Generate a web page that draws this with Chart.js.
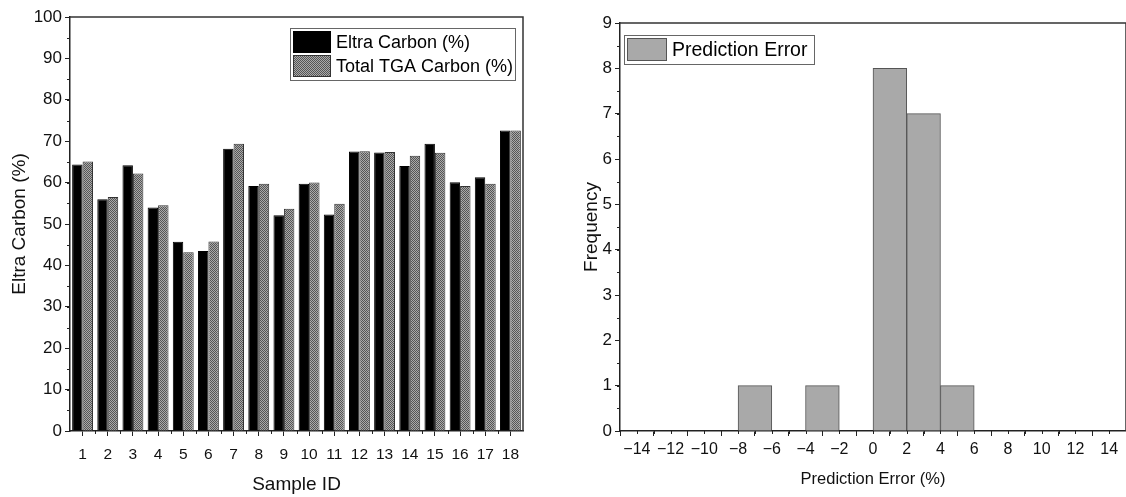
<!DOCTYPE html>
<html lang="en">
<head>
<meta charset="UTF-8">
<title>Carbon comparison and prediction error</title>
<style>
    body {
        margin: 0;
        background: #fff;
        width: 1126px;
        height: 497px;
        overflow: hidden;
        position: relative;
        font-family: "Liberation Sans", Arial, sans-serif;
    }
    .panel { position: absolute; top: 0; height: 497px; }
    #left { left: 0; width: 560px; }
    #right { left: 560px; width: 566px; }
</style>
<script src="https://cdn.jsdelivr.net/npm/chart.js"></script>
</head>
<body>
<div class="panel" id="left"><canvas id="carbonChart"></canvas></div>
<div class="panel" id="right"><canvas id="errorChart"></canvas></div>
<script>
// left panel: carbon by sample
const sampleIds = ['1','2','3','4','5','6','7','8','9','10','11','12','13','14','15','16','17','18'];
const eltraCarbon = [64.4, 56.0, 64.2, 54.0, 45.7, 43.5, 68.2, 59.2, 52.1, 59.7, 52.3, 67.5, 67.3, 64.0, 69.4, 60.1, 61.3, 72.6];
const tgaCarbon   = [65.1, 56.5, 62.2, 54.5, 43.2, 45.8, 69.4, 59.7, 53.7, 60.0, 54.9, 67.6, 67.4, 66.5, 67.2, 59.2, 59.7, 72.6];

// right panel: histogram of prediction error (bins 2% wide, given by centre)
const errorBinCenters = [-7, -3, 1, 3, 5];
const errorCounts = [1, 1, 8, 7, 1];
const errorTicks = [-14, -12, -10, -8, -6, -4, -2, 0, 2, 4, 6, 8, 10, 12, 14];

const FONT = '"Liberation Sans", Arial, sans-serif';
Chart.defaults.font.family = FONT;
Chart.defaults.color = '#111';

function dotPattern() {
    const c = document.createElement('canvas');
    c.width = 2; c.height = 2;
    const g = c.getContext('2d');
    g.fillStyle = '#aaaaaa';
    g.fillRect(0, 0, 2, 2);
    g.fillStyle = '#555555';
    g.fillRect(0, 0, 1, 1);
    g.fillRect(1, 1, 1, 1);
    return g.createPattern(c, 'repeat');
}

// box around plot area (top + right edges)
const frame = {
    id: 'frame',
    afterDraw(chart) {
        const a = chart.chartArea, ctx = chart.ctx;
        ctx.save();
        ctx.strokeStyle = '#333';
        ctx.lineWidth = 1.5;
        ctx.beginPath();
        ctx.moveTo(a.left, a.top);
        ctx.lineTo(a.right, a.top);
        ctx.lineTo(a.right, a.bottom);
        ctx.stroke();
        ctx.restore();
    }
};

// small ticks between the labelled ones
const minorTicks = {
    id: 'minorTicks',
    afterDraw(chart, args, opts) {
        const ctx = chart.ctx, a = chart.chartArea;
        ctx.save();
        ctx.strokeStyle = '#222';
        ctx.lineWidth = 1;
        ctx.beginPath();
        if (opts.y) {
            const s = chart.scales.y;
            for (let v = s.min; v <= s.max + 1e-9; v += opts.y) {
                const p = Math.round(s.getPixelForValue(v)) + 0.5;
                ctx.moveTo(a.left - 3, p);
                ctx.lineTo(a.left, p);
            }
        }
        if (opts.x) {
            const s = chart.scales.x;
            if (opts.x === 'between') {
                for (let i = 0; i < s.ticks.length - 1; i++) {
                    const p = Math.round((s.getPixelForValue(i) + s.getPixelForValue(i + 1)) / 2) + 0.5;
                    ctx.moveTo(p, a.bottom);
                    ctx.lineTo(p, a.bottom + 3);
                }
            } else {
                for (let v = s.min; v <= s.max + 1e-9; v += opts.x) {
                    const p = Math.round(s.getPixelForValue(v)) + 0.5;
                    ctx.moveTo(p, a.bottom);
                    ctx.lineTo(p, a.bottom + 3);
                }
            }
        }
        ctx.stroke();
        ctx.restore();
    }
};

// legend drawn inside the plot area
const boxLegend = {
    id: 'boxLegend',
    afterDraw(chart, args, o) {
        const ctx = chart.ctx;
        const n = chart.data.datasets.length;
        ctx.save();
        ctx.fillStyle = '#fff';
        ctx.fillRect(o.x, o.y, o.w, n * o.rowH + 4);
        ctx.strokeStyle = '#666';
        ctx.lineWidth = 1;
        ctx.strokeRect(o.x + 0.5, o.y + 0.5, o.w, n * o.rowH + 4);
        chart.data.datasets.forEach((ds, i) => {
            const top = o.y + 3 + i * o.rowH;
            const h = o.rowH - 2;
            ctx.fillStyle = ds.backgroundColor;
            ctx.fillRect(o.x + 3, top, o.swatchW, h);
            ctx.strokeStyle = ds.borderColor;
            ctx.strokeRect(o.x + 3.5, top + 0.5, o.swatchW - 1, h - 1);
            ctx.fillStyle = '#000';
            ctx.font = o.fontSize + 'px ' + FONT;
            ctx.textBaseline = 'middle';
            ctx.fillText(ds.label, o.x + o.swatchW + 8, top + h / 2 + 1);
        });
        ctx.restore();
    }
};

new Chart(document.getElementById('carbonChart'), {
    type: 'bar',
    data: {
        labels: sampleIds,
        datasets: [{
            label: 'Eltra Carbon (%)',
            data: eltraCarbon,
            backgroundColor: '#000',
            borderColor: '#000',
            borderWidth: 1
        }, {
            label: 'Total TGA Carbon (%)',
            data: tgaCarbon,
            backgroundColor: dotPattern(),
            borderColor: '#333',
            borderWidth: 1
        }]
    },
    options: {
        responsive: true,
        maintainAspectRatio: false,
        animation: false,
        categoryPercentage: 0.83,
        barPercentage: 1.0,
        layout: { padding: { top: 17, right: 37, left: 0, bottom: 0 } },
        plugins: {
            legend: { display: false },
            tooltip: { enabled: false },
            boxLegend: { x: 290, y: 28, w: 225, rowH: 24, swatchW: 38, fontSize: 18 },
            minorTicks: { y: 5, x: 'between' }
        },
        scales: {
            x: {
                grid: { drawOnChartArea: false, offset: false, tickLength: 5, color: '#222' },
                border: { color: '#222', width: 1.5 },
                ticks: { font: { size: 15.5 }, padding: 9, maxRotation: 0, autoSkip: false },
                title: { display: true, text: 'Sample ID', font: { size: 19 }, padding: { top: 0, bottom: 1 } },
                afterFit(s) { s.height = 66; }
            },
            y: {
                min: 0,
                max: 100,
                ticks: { stepSize: 10, font: { size: 17 }, padding: 3 },
                grid: { drawOnChartArea: false, tickLength: 5, color: '#222' },
                border: { color: '#222', width: 1.5 },
                title: { display: true, text: 'Eltra Carbon (%)', font: { size: 19 }, padding: { top: 8, bottom: 0 } },
                afterFit(s) { s.width = 70; }
            }
        }
    },
    plugins: [frame, minorTicks, boxLegend]
});

new Chart(document.getElementById('errorChart'), {
    type: 'bar',
    data: {
        datasets: [{
            label: 'Prediction Error',
            data: errorBinCenters.map((x, i) => ({ x: x, y: errorCounts[i] })),
            backgroundColor: '#a9a9a9',
            borderColor: '#555',
            borderWidth: 1
        }]
    },
    options: {
        responsive: true,
        maintainAspectRatio: false,
        animation: false,
        categoryPercentage: 1.0,
        barPercentage: 1.0,
        layout: { padding: { top: 23, right: 0, left: 0, bottom: 0 } },
        plugins: {
            legend: { display: false },
            tooltip: { enabled: false },
            boxLegend: { x: 64, y: 35, w: 190, rowH: 25, swatchW: 40, fontSize: 19.5 },
            minorTicks: { y: 0.5, x: 1 }
        },
        scales: {
            x: {
                type: 'linear',
                min: -15,
                max: 15,
                offset: false,
                afterBuildTicks(s) { s.ticks = errorTicks.map(v => ({ value: v })); },
                ticks: {
                    font: { size: 16 },
                    padding: 4,
                    maxRotation: 0,
                    autoSkip: false,
                    callback: v => String(v).replace('-', '\u2212')
                },
                grid: { drawOnChartArea: false, tickLength: 5, color: '#222' },
                border: { color: '#222', width: 1.5 },
                title: { display: true, text: 'Prediction Error (%)', font: { size: 16.5 }, padding: { top: 0, bottom: 8 } },
                afterFit(s) { s.height = 66; }
            },
            y: {
                min: 0,
                max: 9,
                ticks: { stepSize: 1, font: { size: 17 }, padding: 3 },
                grid: { drawOnChartArea: false, tickLength: 5, color: '#222' },
                border: { color: '#222', width: 1.5 },
                title: { display: true, text: 'Frequency', font: { size: 19 }, padding: { top: 20, bottom: 0 } },
                afterFit(s) { s.width = 60; }
            }
        }
    },
    plugins: [frame, minorTicks, boxLegend]
});
</script>
</body>
</html>
